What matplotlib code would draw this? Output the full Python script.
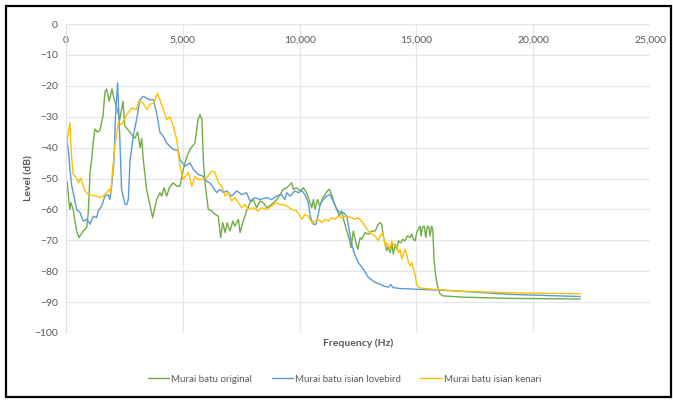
import matplotlib
matplotlib.use("Agg")
import matplotlib.pyplot as plt
from matplotlib.patches import Rectangle
from matplotlib.ticker import FuncFormatter

# Murai batu original (green)
f_orig = [0, 60, 130, 170, 210, 310, 385, 460, 560, 650, 740, 890, 955, 1030, 1100, 1170,
          1240, 1350, 1450, 1580, 1670, 1740, 1850, 1970, 2050, 2170, 2300, 2440, 2520, 2740,
          2950, 3070, 3170, 3240, 3310, 3450, 3600, 3710, 3880, 4020, 4100, 4200, 4310, 4420,
          4590, 4740, 4880, 5020, 5170, 5310, 5520, 5650, 5740, 5820, 5880, 5950, 6090, 6240,
          6380, 6520, 6620, 6710, 6810, 6900, 7020, 7140, 7230, 7380, 7450, 7590, 7730, 7880,
          8020, 8160, 8300, 8450, 8590, 8800, 9020, 9160, 9300, 9450, 9590, 9660, 9730, 9870,
          10020, 10160, 10300, 10450, 10520, 10590, 10660, 10760, 10870, 10990, 11090, 11190,
          11270, 11370, 11470, 11590, 11700, 11800, 11900, 12020, 12130, 12200, 12300, 12410,
          12490, 12590, 12660, 12800, 12940, 13080, 13230, 13370, 13440, 13510, 13580, 13730,
          13800, 13870, 13940, 14010, 14080, 14160, 14230, 14330, 14410, 14510, 14610, 14730,
          14800, 14870, 14940, 15010, 15080, 15150, 15200, 15250, 15330, 15400, 15470, 15540,
          15580, 15650, 15700, 15750, 15800, 15870, 15940, 16010, 16150, 17000, 19000, 22000]
db_orig = [-50.3, -51.5, -57.8, -60, -57.8, -60, -63.8, -67, -69.1, -68, -67, -65.8, -61, -48, -44, -38,
           -34, -35, -34.5, -30, -22, -21, -25, -21, -24, -27, -31, -25, -33, -35,
           -37, -35, -40, -37, -44, -53.5, -58.9, -62.7, -56.8, -54.6, -55.7, -53, -55.7, -53,
           -51.4, -52.5, -52.5, -47, -43, -40.6, -38.5, -31, -29.4, -31, -44, -51.4, -60, -60.5,
           -61.6, -62.2, -69.1, -64.3, -67.5, -64.3, -67, -63.8, -65.4, -63.2, -67.5, -63.8, -60.5, -57.8,
           -56.8, -59.5, -57.3, -57.8, -59.5, -58.4, -56.8, -55.2, -53.5, -53, -51.9, -51.4, -53.5, -53,
           -54, -53, -54.6, -57.8, -59.5, -56.8, -60, -56.8, -58.9, -56.2, -55.2, -54,
           -53.5, -55.2, -57.8, -60, -62.2, -60.5, -63.8, -67, -69.7, -72.4, -67, -70.8,
           -72.9, -69.1, -69.7, -67.5, -68, -67, -67, -64.8, -64.3, -64.8, -68.6, -73.4,
           -71.8, -74, -71, -74.5, -71.3, -72.9, -70.2, -70.8, -69.7, -70.2, -68.6, -69.1,
           -68, -69.7, -70.2, -67.5, -66.5, -65.4, -68.6, -65.9, -65.4, -69.1, -65.4, -65.9,
           -68.6, -65.4, -66.5, -76.1, -80, -83.7, -85.8, -87.4, -88, -88.4, -88.8, -89]

# Murai batu isian lovebird (blue)
f_love = [0, 50, 120, 170, 240, 310, 460, 600, 740, 890, 1030, 1170, 1310, 1380, 1530, 1670,
          1810, 1880, 1950, 2050, 2120, 2210, 2260, 2310, 2380, 2530, 2600, 2670, 2740, 2880,
          3020, 3170, 3310, 3450, 3600, 3740, 3880, 4020, 4170, 4310, 4450, 4590, 4810, 4880,
          5090, 5310, 5450, 5660, 5880, 6020, 6160, 6310, 6450, 6590, 6740, 6880, 7090, 7310,
          7520, 7730, 7880, 8090, 8300, 8590, 8800, 9020, 9230, 9370, 9450, 9590, 9800, 9940,
          10090, 10230, 10370, 10470, 10590, 10700, 10800, 10870, 11020, 11160, 11300, 11440,
          11590, 11730, 11870, 12020, 12090, 12230, 12330, 12510, 12730, 12940, 13200, 13580,
          13800, 13900, 14000, 14300, 16440, 19000, 22000]
db_love = [-41, -38, -42, -47, -52, -54.6, -60, -61, -63.8, -63.2, -64.8, -62.2, -62.7, -60.5, -58.9, -55.7,
           -55.2, -56.8, -53, -45, -30, -19.1, -28, -38, -53.5, -58.4, -58.4, -56.8, -44.4, -36.3,
           -31, -24.5, -23.4, -24, -24.5, -24.5, -28.8, -35, -36.4, -38.5, -39.6, -40.6, -41, -43.9,
           -46, -45, -47, -48.7, -49.3, -50.9, -51.4, -53, -54.6, -53.5, -54.6, -54, -55.7, -54,
           -55.2, -54.6, -57.3, -56.2, -56.8, -56.2, -56.8, -55.7, -55.2, -56.8, -54.6, -55.7, -54, -54.6,
           -54, -55.2, -57.8, -62.7, -64.8, -64.8, -61.6, -58.4, -56.8, -55.7, -55.2, -57.3,
           -60, -61, -61, -62.2, -65.4, -71.3, -74, -77.2, -79.4, -82, -83.5, -84.7,
           -85.2, -84.3, -85.3, -85.6, -86.3, -87.5, -88.2]

# Murai batu isian kenari (yellow)
f_kenari = [0, 80, 170, 240, 310, 460, 530, 630, 740, 815, 955, 1310, 1460, 1600, 1740, 1850,
            1910, 2000, 2100, 2240, 2380, 2600, 2810, 3020, 3100, 3310, 3450, 3600, 3740, 3920,
            4020, 4170, 4310, 4450, 4590, 4740, 4880, 5020, 5240, 5380, 5520, 5660, 5810, 6020,
            6240, 6380, 6520, 6670, 6810, 6950, 7090, 7230, 7380, 7520, 7660, 7800, 8020, 8230,
            8380, 8590, 8800, 9020, 9160, 9300, 9450, 9660, 9870, 10020, 10090, 10230, 10370,
            10520, 10660, 10800, 10940, 11090, 11230, 11370, 11520, 11660, 11800, 12020, 12230,
            12370, 12510, 12660, 12800, 12940, 13080, 13230, 13370, 13440, 13550, 13660, 13730,
            13870, 13940, 14040, 14160, 14230, 14300, 14370, 14510, 14580, 14650, 14730, 14800,
            14870, 14940, 15010, 15080, 15200, 16000, 17000, 19000, 22000]
db_kenari = [-42.3, -36, -32, -42.8, -48.7, -49.8, -51.4, -49.8, -52.5, -54, -55.2, -55.7, -56.2, -55.7, -54.6, -53.5,
             -54.6, -47, -39, -32, -32.6, -29.4, -27.2, -27.7, -25, -25.6, -27.7, -26, -25.6, -22.4,
             -24.5, -27.7, -31, -30, -33, -37.4, -46, -50.3, -48, -52.5, -49.3, -50.3, -50.3, -49.8,
             -47.6, -48, -51.4, -52.5, -55.7, -54.6, -57.3, -56.2, -57.8, -59.5, -58.4, -60, -59.5, -60.5,
             -59.5, -60, -58.9, -57.8, -58.5, -58.4, -58.9, -60, -60.5, -62.2, -63.2, -61.6, -62.2,
             -64.3, -63.8, -63.2, -64.3, -63.2, -63.8, -62.7, -63.2, -62.2, -62.7, -62.2, -62.7,
             -63.2, -62.7, -63.8, -65.4, -67, -68, -68.6, -70.2, -68.6, -67.5, -71.8, -70.8,
             -72.9, -70.2, -71.8, -71.8, -74, -72.9, -76.1, -72.9, -74.5, -76.7, -78.3, -77.2,
             -79.4, -81, -84.2, -85, -85.5, -86, -86.5, -87, -87.3]

x_ticks = [0, 5000, 10000, 15000, 20000, 25000]
y_ticks = [0, -10, -20, -30, -40, -50, -60, -70, -80, -90, -100]

plt.rcParams['font.family'] = ['Lato', 'DejaVu Sans']
txt = '#595959'

fig = plt.figure(figsize=(6.73, 4.0), dpi=100)
ax = fig.add_axes([0.098, 0.1675, 0.868, 0.7725])

ax.plot(f_orig, db_orig, color='#70AD47', lw=1.0, label='Murai batu original')
ax.plot(f_love, db_love, color='#5B9BD5', lw=1.0, label='Murai batu isian lovebird')
ax.plot(f_kenari, db_kenari, color='#FFC000', lw=1.0, label='Murai batu isian kenari')

ax.set_xlim(0, 25000)
ax.set_ylim(-100, 0)
ax.set_xticks(x_ticks)
ax.set_yticks(y_ticks)
ax.xaxis.set_major_formatter(FuncFormatter(lambda v, p: f'{int(v):,}'))
ax.xaxis.tick_top()
ax.tick_params(axis='x', length=0, pad=-15, labelsize=7.5, colors=txt)
ax.tick_params(axis='y', length=0, pad=6, labelsize=7.5, colors=txt)
ax.grid(True, color='#E4E7EC', lw=0.9)
ax.set_axisbelow(True)
for s in ['top', 'right', 'bottom']:
    ax.spines[s].set_visible(False)
ax.spines['left'].set_color('#DDE1E6')

ax.xaxis.set_label_position('bottom')
ax.set_xlabel('Frequency (Hz)', fontsize=7.5, fontweight='bold', color=txt, labelpad=4)
ax.set_ylabel('Level (dB)', fontsize=7.5, fontweight='bold', color=txt, labelpad=0)

fig.legend(loc='center', bbox_to_anchor=(0.512, 0.052), ncol=3, frameon=False,
           fontsize=7, labelcolor=txt, handlelength=2.2, handletextpad=0.2,
           columnspacing=2.0)

fig.patches.append(Rectangle((0.009, 0.007), 0.988, 0.977, transform=fig.transFigure,
                             fill=False, edgecolor='black', lw=1.6))

fig.savefig('out.png', dpi=100)
